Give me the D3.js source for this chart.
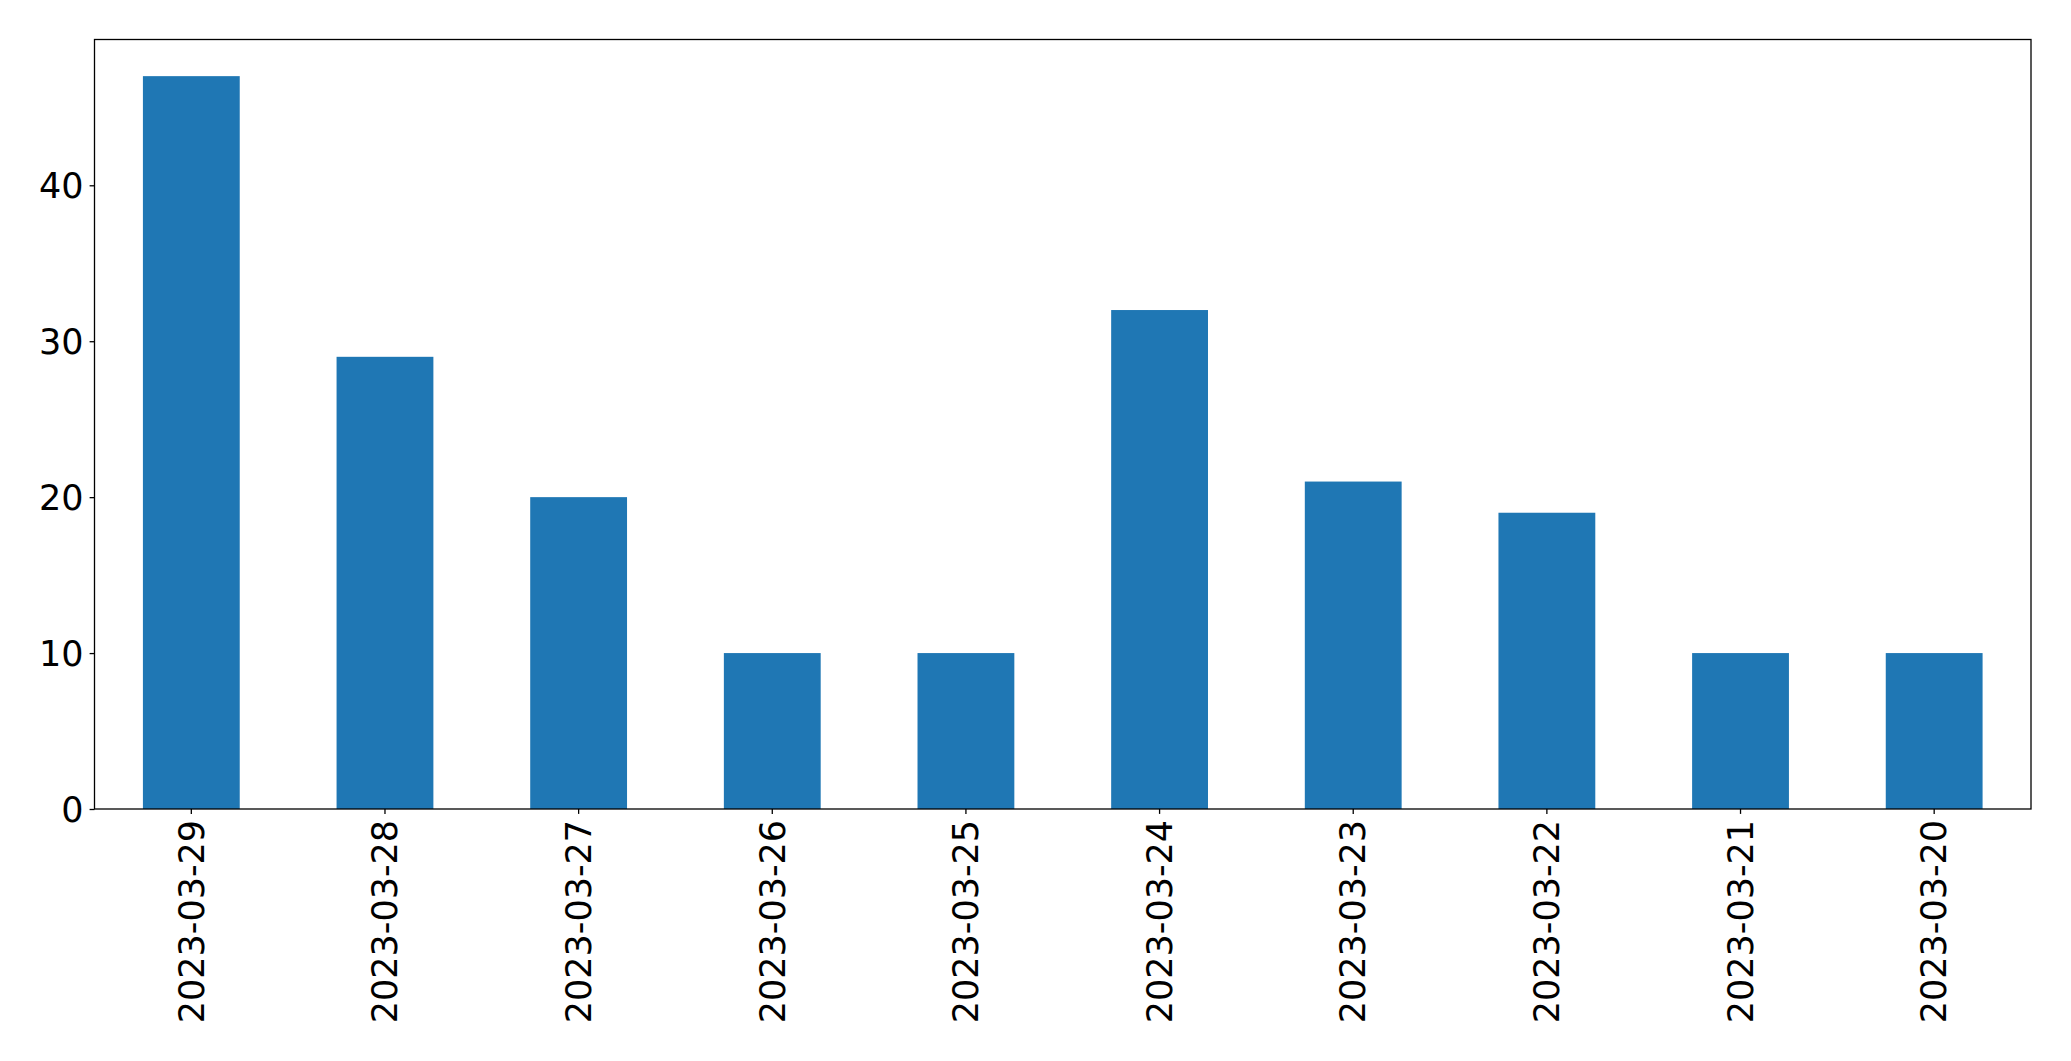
<!DOCTYPE html>
<html>
<head>
<meta charset="utf-8">
<script src="https://cdn.jsdelivr.net/npm/d3@7"></script>
<style>
  body { margin: 0; background: #fff; }
  text { font-family: "DejaVu Sans", sans-serif; fill: #000; }
</style>
</head>
<body>
<script>
// data
const dates = ["2023-03-29", "2023-03-28", "2023-03-27", "2023-03-26", "2023-03-25",
  "2023-03-24", "2023-03-23", "2023-03-22", "2023-03-21", "2023-03-20"];
const counts = [47, 29, 20, 10, 10, 32, 21, 19, 10, 10];
const yTicks = [0, 10, 20, 30, 40];

const width = 2071;
const height = 1061;
const margin = { top: 39.5, right: 40, bottom: 252, left: 94.5 };
const fontSize = 35;
const tickLen = 4.9;

const svg = d3.select('body')
  .append('svg')
  .attr('width', width)
  .attr('height', height);

const x = d3.scaleBand()
  .domain(dates)
  .range([margin.left, width - margin.right])
  .paddingInner(0.5)
  .paddingOuter(0.25);

const y = d3.scaleLinear()
  .domain([0, d3.max(counts) * 1.05])
  .range([height - margin.bottom, margin.top]);

// bars
svg.append('g')
  .selectAll('rect')
  .data(counts)
  .join('rect')
  .attr('x', (d, i) => x(dates[i]))
  .attr('y', d => y(d))
  .attr('width', x.bandwidth())
  .attr('height', d => y(0) - y(d))
  .attr('fill', '#1f77b4');

// y axis
const yAxis = svg.append('g')
  .attr('transform', `translate(${margin.left},0)`)
  .call(d3.axisLeft(y).tickValues(yTicks).tickSize(tickLen).tickPadding(6));
yAxis.select('.domain').remove();
yAxis.selectAll('text')
  .style('font-size', fontSize + 'px')
  .attr('dy', '0.35em');

// x axis
const xAxis = svg.append('g')
  .attr('transform', `translate(0,${height - margin.bottom})`)
  .call(d3.axisBottom(x).tickSize(tickLen).tickPadding(6));
xAxis.select('.domain').remove();
xAxis.selectAll('text')
  .style('font-size', fontSize + 'px')
  .attr('text-anchor', 'end')
  .attr('transform', 'rotate(-90)')
  .attr('x', -(tickLen + 6))
  .attr('y', 0)
  .attr('dy', '0.35em');

svg.selectAll('.tick line').attr('stroke', '#000').attr('stroke-width', 1.3);

// frame
svg.append('rect')
  .attr('x', margin.left)
  .attr('y', margin.top)
  .attr('width', width - margin.left - margin.right)
  .attr('height', height - margin.top - margin.bottom)
  .attr('fill', 'none')
  .attr('stroke', '#000')
  .attr('stroke-width', 1.3);
</script>
</body>
</html>
